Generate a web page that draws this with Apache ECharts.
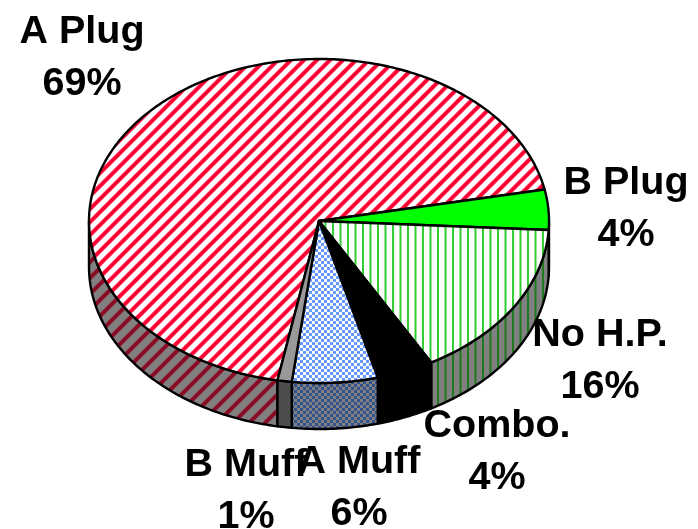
<!DOCTYPE html>
<html><head><meta charset="utf-8">
<style>html,body{margin:0;padding:0;background:#fff}#c{width:698px;height:529px}</style>
<script src="https://cdn.jsdelivr.net/npm/echarts@6/dist/echarts.min.js"></script>
</head><body><div id="c"></div>
<script>
const categories = ['A Plug','B Plug','No H.P.','Combo.','A Muff','B Muff'];
const values = [69,4,16,4,6,1];
const tickLabels = values.map(v => v + '%');
// slices are listed clockwise starting from A Plug; layout of the tilted disc
const CX=319, CY=221, RX=230, RY=162, DEPTH=46;
const LABEL_POS = [[82,58],[626,209],[600,361],[497,452],[359,488],[246,491]];

function stripeTile(bg, fg, period, w){
  const c=document.createElement('canvas');c.width=c.height=period;const x=c.getContext('2d');
  const img=x.createImageData(period,period);
  for(let py=0;py<period;py++)for(let px=0;px<period;px++){
    const u=(px+py+1)%period, d=Math.min(u,period-u)/Math.SQRT2;
    const a=Math.max(0,Math.min(1,(w/2-d)/1.4+0.5));
    const o=(py*period+px)*4;
    for(let k=0;k<3;k++)img.data[o+k]=bg[k]+(fg[k]-bg[k])*a;
    img.data[o+3]=255;
  }
  x.putImageData(img,0,0);
  return {image:c,repeat:'repeat'};
}
function vertTile(bg, fg, w){
  const c=document.createElement('canvas');c.width=15;c.height=2;const x=c.getContext('2d');
  x.fillStyle=bg;x.fillRect(0,0,15,2);x.fillStyle=fg;x.fillRect(2,0,w,2);x.fillRect(9.5,0,w,2);
  return {image:c,repeat:'repeat'};
}
function checkTile(bg, fg){
  const c=document.createElement('canvas');c.width=c.height=6;const x=c.getContext('2d');
  x.fillStyle=bg;x.fillRect(0,0,6,6);x.fillStyle=fg;x.fillRect(0,0,3,3);x.fillRect(3,3,3,3);
  return {image:c,repeat:'repeat'};
}
const topFills=[stripeTile([255,255,255],[255,0,51],13,4),'#00ff00',vertTile('#fff','#33cc33',2),'#000',checkTile('#fff','#6699ff'),'#999999'];
const sideFills=[stripeTile([128,128,128],[138,10,36],16,4),'#008000',vertTile('#808080','#1f7a1f',2),'#000',checkTile('#808080','#33508f'),'#4d4d4d'];

const total=values.reduce((a,b)=>a+b,0);
const pt=(t,dy)=>[CX+RX*Math.cos(t),CY+RY*Math.sin(t)+(dy||0)];
const arc=(a,b,dy)=>{const n=Math.max(2,Math.ceil(Math.abs(b-a)*60));const r=[];for(let i=0;i<=n;i++)r.push(pt(a+(b-a)*i/n,dy));return r;};

const startT=(-11.2)*Math.PI/180-2*Math.PI*values[0]/total;

function renderItem(params,api){
  const i=params.dataIndex;
  let before=0;for(let k=0;k<i;k++)before+=values[k];
  const a=startT+2*Math.PI*before/total, b=a+2*Math.PI*api.value(1)/total;
  const children=[];
  const ranges=[[a,b],[a+2*Math.PI,b+2*Math.PI],[a-2*Math.PI,b-2*Math.PI]];
  ranges.forEach(([p,q])=>{
    const s=Math.max(p,0), e=Math.min(q,Math.PI);
    if(e>s){
      const up=arc(s,e,0), dn=arc(e,s,DEPTH);
      children.push({type:'polygon',shape:{points:up.concat(dn)},style:{fill:sideFills[i],stroke:'#000',lineWidth:2.4,lineJoin:'round'},z2:1});
    }
  });
  children.push({type:'polygon',shape:{points:[[CX,CY]].concat(arc(a,b,0))},style:{fill:topFills[i],stroke:'#000',lineWidth:2.4,lineJoin:'round'},z2:2});
  children.push({type:'text',x:LABEL_POS[i][0],y:LABEL_POS[i][1],z2:10+(i===4?1:0),
    style:{text:categories[i]+'\n'+tickLabels[i],fill:'#000',font:'bold 39.5px "Liberation Sans"',lineHeight:52,align:'center',verticalAlign:'middle'}});
  return {type:'group',children};
}
const chart=echarts.init(document.getElementById('c'),null,{renderer:'canvas'});
chart.setOption({
  animation:false,
  series:[{type:'custom',coordinateSystem:'none',renderItem,
    data:categories.map((n,i)=>({name:n,value:[i,values[i]]}))}]
});
</script></body></html>
